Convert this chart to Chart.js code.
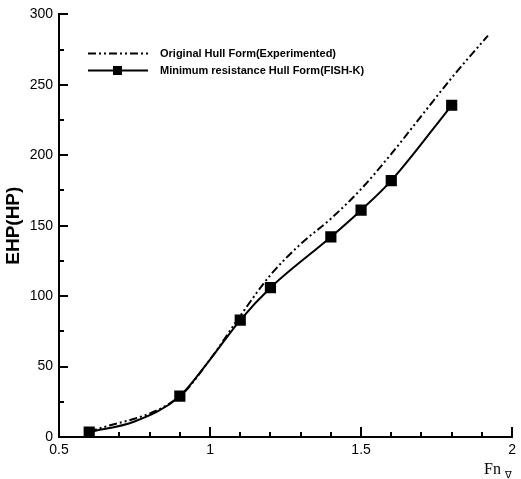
<!DOCTYPE html>
<html lang="en">
<head>
<meta charset="UTF-8">
<title>EHP vs Fn</title>
<script src="https://cdn.jsdelivr.net/npm/chart.js"></script>
<style>
  body { margin: 0; background: #fff; }
</style>
</head>
<body>
<canvas id="ehpChart" width="521" height="479"></canvas>

<script>
    // Original hull (experimented) - dash-dot-dot line
    const fnOriginal = [0.6, 0.9, 1.0, 1.1, 1.2, 1.3, 1.4, 1.5, 1.6, 1.7, 1.8, 1.92];
    const ehpOriginal = [3.5, 29, 55, 86, 115, 137, 155, 176, 201, 228, 255, 285];

    // Minimum resistance hull (FISH-K) - solid line with square markers
    const fnFishK = [0.6, 0.75, 0.9, 1.0, 1.1, 1.2, 1.4, 1.5, 1.6, 1.8];
    const ehpFishK = [3.5, 11, 29, 55, 83, 106, 142, 161, 182, 235.5];
    const fnFishKMarked = [0.6, 0.9, 1.1, 1.2, 1.4, 1.5, 1.6, 1.8];

    const seriesNames = ['Original Hull Form(Experimented)', 'Minimum resistance Hull Form(FISH-K)'];
    const xMajorLabels = [0.5, 1, 1.5, 2];
    const yMajorLabels = [0, 50, 100, 150, 200, 250, 300];

    const toPoints = (xs, ys) => xs.map((x, i) => ({ x: x, y: ys[i] }));
    const near = (list, v) => list.some(t => Math.abs(t - v) < 1e-6);

    // inward tick marks on both axes
    const innerTicks = {
        id: 'innerTicks',
        afterDraw(chart) {
            const { ctx, chartArea, scales } = chart;
            ctx.save();
            ctx.strokeStyle = '#000';
            ctx.lineWidth = 2;
            ctx.setLineDash([]);
            ctx.beginPath();
            for (let v = 0; v <= 300; v += 25) {
                const py = Math.round(scales.y.getPixelForValue(v));
                const len = near(yMajorLabels, v) ? 9 : 5;
                ctx.moveTo(chartArea.left, py);
                ctx.lineTo(chartArea.left + len, py);
            }
            for (let i = 0; i <= 15; i++) {
                const v = 0.5 + i * 0.1;
                const px = Math.round(scales.x.getPixelForValue(v));
                const len = near(xMajorLabels, v) ? 10 : 5;
                ctx.moveTo(px, chartArea.bottom);
                ctx.lineTo(px, chartArea.bottom - len);
            }
            ctx.stroke();

            // x axis title: Fn with nabla subscript
            ctx.fillStyle = '#000';
            ctx.textBaseline = 'alphabetic';
            ctx.font = '16px "Liberation Serif", "DejaVu Serif", serif';
            ctx.fillText('Fn', 484, 474);
            ctx.font = '10px "DejaVu Sans", sans-serif';
            ctx.fillText('\u2207', 505, 478);
            ctx.restore();
        }
    };

    // legend drawn inside the plot area
    const insideLegend = {
        id: 'insideLegend',
        afterDraw(chart) {
            const { ctx } = chart;
            ctx.save();
            ctx.strokeStyle = '#000';
            ctx.fillStyle = '#000';
            ctx.lineWidth = 2;

            ctx.setLineDash([8, 3, 2, 3, 2, 3]);
            ctx.beginPath();
            ctx.moveTo(88, 53.5);
            ctx.lineTo(148, 53.5);
            ctx.stroke();

            ctx.setLineDash([]);
            ctx.beginPath();
            ctx.moveTo(88, 70.5);
            ctx.lineTo(148, 70.5);
            ctx.stroke();
            ctx.fillRect(113, 66, 9, 9);

            ctx.font = 'bold 11px "Liberation Sans", Arial, sans-serif';
            ctx.textBaseline = 'middle';
            ctx.fillText(seriesNames[0], 160, 54);
            ctx.fillText(seriesNames[1], 160, 71);
            ctx.restore();
        }
    };

    const ctx = document.getElementById('ehpChart').getContext('2d');
    new Chart(ctx, {
        type: 'line',
        data: {
            datasets: [
                {
                    label: seriesNames[0],
                    data: toPoints(fnOriginal, ehpOriginal),
                    borderColor: '#000',
                    borderWidth: 2,
                    borderDash: [8, 3, 2, 3, 2, 3],
                    pointRadius: 0,
                    cubicInterpolationMode: 'monotone',
                    fill: false
                },
                {
                    label: seriesNames[1],
                    data: toPoints(fnFishK, ehpFishK),
                    borderColor: '#000',
                    backgroundColor: '#000',
                    borderWidth: 2,
                    pointStyle: 'rect',
                    pointRadius: c => near(fnFishKMarked, c.raw.x) ? 6.5 : 0,
                    cubicInterpolationMode: 'monotone',
                    fill: false
                }
            ]
        },
        options: {
            responsive: false,
            animation: false,
            layout: { padding: { top: 14, right: 0, left: 0, bottom: 0 } },
            plugins: {
                legend: { display: false },
                tooltip: { enabled: false }
            },
            scales: {
                x: {
                    type: 'linear',
                    min: 0.5,
                    max: 2,
                    afterFit: s => { s.height = 42; },
                    grid: { display: false, drawTicks: false },
                    border: { display: true, color: '#000', width: 2 },
                    ticks: {
                        stepSize: 0.1,
                        padding: 5,
                        color: '#000',
                        maxRotation: 0,
                        autoSkip: false,
                        font: { family: '"Liberation Sans", Arial, sans-serif', size: 14 },
                        callback: v => near(xMajorLabels, v) ? String(Math.round(v * 10) / 10) : ''
                    }
                },
                y: {
                    min: 0,
                    max: 300,
                    afterFit: s => { s.width = 59; },
                    grid: { display: false, drawTicks: false },
                    border: { display: true, color: '#000', width: 2 },
                    title: {
                        display: true,
                        text: 'EHP(HP)',
                        color: '#000',
                        padding: { top: 2, bottom: 0 },
                        font: { family: '"Liberation Sans", Arial, sans-serif', size: 19, weight: 'bold' }
                    },
                    ticks: {
                        stepSize: 25,
                        padding: 6,
                        color: '#000',
                        autoSkip: false,
                        font: { family: '"Liberation Sans", Arial, sans-serif', size: 14 },
                        callback: v => near(yMajorLabels, v) ? String(v) : ''
                    }
                }
            }
        },
        plugins: [innerTicks, insideLegend]
    });
</script>
</body>
</html>
